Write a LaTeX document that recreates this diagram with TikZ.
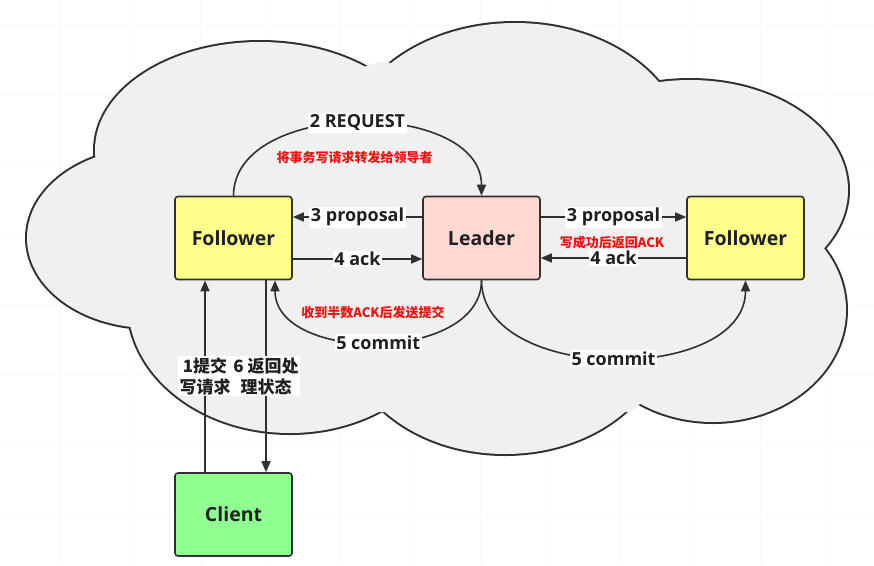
\documentclass[tikz,border=0pt]{standalone}
\usepackage{fontspec}
\setmainfont{Open Sans}
\newfontfamily\cjk{Noto Sans CJK SC}
\usetikzlibrary{arrows.meta}
\definecolor{lc}{HTML}{303030}
\definecolor{txt}{HTML}{1F1F24}
\definecolor{fy}{HTML}{FFFF8C}
\definecolor{lp}{HTML}{FFD9D1}
\definecolor{cg}{HTML}{8FFF8F}
\definecolor{cloudfill}{HTML}{F0F0F0}
\definecolor{redtx}{HTML}{EE1111}
\definecolor{gridc}{HTML}{F8F8F8}
\tikzset{
  box/.style={draw=lc, line width=1.6pt, rounded corners=3pt, minimum width=117pt, minimum height=83pt, text=txt, font=\fontsize{19.5}{22}\selectfont\bfseries},
  lbl/.style={fill=white, inner sep=1.5pt, text=txt, font=\fontsize{18}{20}\selectfont\bfseries},
  cnlbl/.style={fill=white, inner sep=1.5pt, text=txt, align=center, font=\cjk\fontsize{17}{21}\selectfont\bfseries},
  redtext/.style={text=redtx, inner sep=0pt, font=\cjk\fontsize{13}{15}\selectfont\bfseries},
  arr/.style={draw=lc, line width=1.6pt, -{Triangle[length=11pt,width=9pt]}},
  cloudline/.style={draw=lc, line width=4pt},
}
\begin{document}
\begin{tikzpicture}[x=1pt,y=-1pt]
\useasboundingbox (0,0) rectangle (874,565);
\fill[white] (0,0) rectangle (874,565);
% faint grid
\foreach \gx in {60,130,...,830} \draw[gridc, line width=0.8pt] (\gx,0) -- (\gx,565);
\foreach \gy in {25,95,...,515} \draw[gridc, line width=0.8pt] (0,\gy) -- (874,\gy);
% cloud: outline pass
\foreach \cx/\cy/\rx/\ry in {260/150/165/108, 515/150/170/127, 690/190/158/110, 713/310/133/112, 505/330/160/124, 290/304/162/129, 150/238/123/90}
  \draw[cloudline] (\cx,\cy) ellipse [x radius=\rx pt, y radius=\ry pt];
% cloud: fill pass
\foreach \cx/\cy/\rx/\ry in {260/150/165/108, 515/150/170/127, 690/190/158/110, 713/310/133/112, 505/330/160/124, 290/304/162/129, 150/238/123/90}
  \fill[cloudfill] (\cx,\cy) ellipse [x radius=\rx pt, y radius=\ry pt];
\fill[cloudfill] (102,151) -- (379,62) -- (656,83) -- (823,258) -- (630,412) -- (379,412) -- (128,323) -- cycle;

% nodes
\node[box, fill=fy] (f1) at (233.5,238) {Follower};
\node[box, fill=lp] (ld) at (481.5,238) {Leader};
\node[box, fill=fy] (f2) at (745.5,238) {Follower};
\node[box, fill=cg] (cl) at (233.5,514.5) {Client};

% connectors
\draw[arr] ([yshift=21pt]ld.west) -- node[lbl] {3 proposal} ([yshift=21pt]f1.east);
\draw[arr] ([yshift=-21pt]f1.east) -- node[lbl] {4 ack} ([yshift=-21pt]ld.west);
\draw[arr] ([yshift=21pt]ld.east) -- node[lbl] {3 proposal} ([yshift=21pt]f2.west);
\draw[arr] ([yshift=-20pt]f2.west) -- node[lbl] {4 ack} ([yshift=-20pt]ld.east);
\draw[arr] (f1.north) .. controls +(0,-97) and +(0,-97) .. node[lbl, pos=0.5] {2 REQUEST} (ld.north);
\draw[arr] (ld.south) .. controls +(0,83) and +(0,83) .. node[lbl, pos=0.5] {5 commit} ([xshift=41.5pt]f1.south);
\draw[arr] (ld.south) .. controls +(0,104) and +(0,104) .. node[lbl, pos=0.5] {5 commit} (f2.south);
\draw[arr] ([xshift=-28.5pt]cl.north) -- node[cnlbl, pos=0.5] {1提交\\写请求} ([xshift=-28.5pt]f1.south);
\draw[arr] ([xshift=32.5pt]f1.south) -- node[cnlbl, pos=0.5] {6 返回处\\理状态} ([xshift=32.5pt]cl.north);

% red annotations
\node[redtext] (r1) at (354.5,158) {将事务写请求转发给领导者};
\node[redtext] (r2) at (612,243) {写成功后返回ACK};
\node[redtext] (r3) at (373,313) {收到半数ACK后发送提交};
\end{tikzpicture}
\end{document}
